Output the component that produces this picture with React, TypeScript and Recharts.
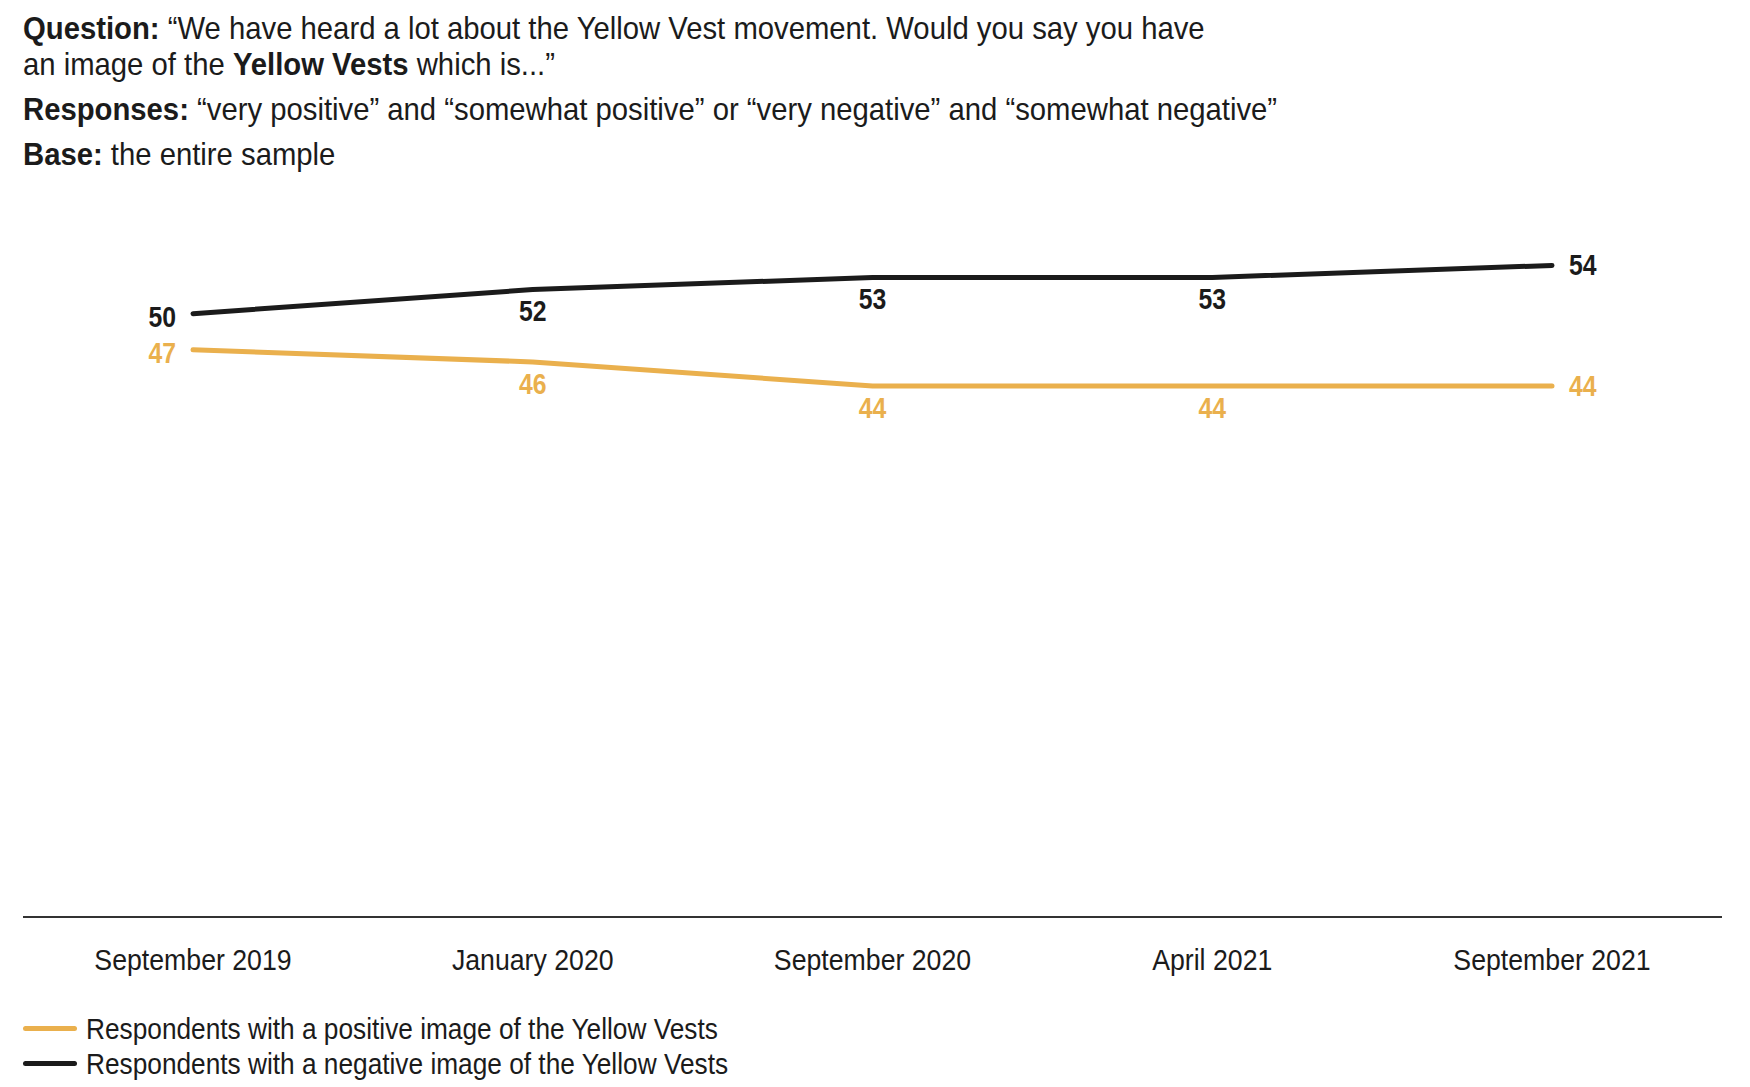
import React from 'react';
import { LineChart, Line, XAxis, YAxis, LabelList, Legend } from 'recharts';

const categories = ['September 2019', 'January 2020', 'September 2020', 'April 2021', 'September 2021'];
const positiveValues = [47, 46, 44, 44, 44];
const negativeValues = [50, 52, 53, 53, 54];
const seriesNames = [
  'Respondents with a positive image of the Yellow Vests',
  'Respondents with a negative image of the Yellow Vests',
];

const data = categories.map((month, i) => ({
  month,
  positive: positiveValues[i],
  negative: negativeValues[i],
}));

const FONT = "'Liberation Sans', Arial, Helvetica, sans-serif";
const SX = 0.89;
const LABEL_SX = 0.84;
const HEADER_SX = 0.915;
const ORANGE = '#EAB04D';
const BLACK = '#1b1b1b';

const makeLabel = (color: string, below: number) => (props: any) => {
  const { x, y, value, index } = props;
  const last = categories.length - 1;
  let tx = x;
  let ty = y + below;
  let anchor: 'start' | 'middle' | 'end' = 'middle';
  if (index === 0) {
    tx = x - 17;
    ty = y + 3;
    anchor = 'end';
  } else if (index === last) {
    tx = x + 17;
    ty = y - 1;
    anchor = 'start';
  }
  return (
    <text
      transform={`translate(${tx},${ty}) scale(${LABEL_SX},1)`}
      x={0}
      y={0}
      dy="0.36em"
      textAnchor={anchor}
      fill={color}
      fontFamily={FONT}
      fontWeight={700}
      fontSize={29.5}
    >
      {value}
    </text>
  );
};

const Tick = (props: any) => {
  const { x, y, payload } = props;
  return (
    <text
      transform={`translate(${x},${y + 53}) scale(${SX},1)`}
      x={0}
      y={0}
      textAnchor="middle"
      fill="#1b1b1b"
      fontFamily={FONT}
      fontSize={30}
    >
      {payload.value}
    </text>
  );
};

const LegendContent = () => {
  const colors = [ORANGE, BLACK];
  return (
    <div style={{ fontFamily: FONT, fontSize: 30, color: '#1b1b1b', width: 900 }}>
      {seriesNames.map((name, i) => (
        <div key={name} style={{ display: 'flex', alignItems: 'center', height: 35, lineHeight: '35px' }}>
          <span
            style={{
              display: 'inline-block',
              flex: 'none',
              width: 54,
              height: 5,
              borderRadius: 3,
              background: colors[i],
              marginRight: 9,
            }}
          />
          <span
            style={{
              display: 'inline-block',
              whiteSpace: 'nowrap',
              transform: `scaleX(${SX - 0.015})`,
              transformOrigin: 'left center',
            }}
          >
            {name}
          </span>
        </div>
      ))}
    </div>
  );
};

const HeaderLine = ({ y, children }: { y: number; children: React.ReactNode }) => (
  <text transform={`translate(23,${y}) scale(${HEADER_SX},1)`} x={0} y={0}>
    {children}
  </text>
);

export default function App() {
  return (
    <div style={{ position: 'absolute', left: 0, top: 0, width: 1750, height: 1087, background: '#fff' }}>
      <svg width={1750} height={190} style={{ position: 'absolute', left: 0, top: 0 }}>
        <g fontFamily={FONT} fontSize={32} fill="#1b1b1b">
          <HeaderLine y={39}>
            <tspan fontWeight={700}>Question:</tspan>
            <tspan> “We have heard a lot about the Yellow Vest movement. Would you say you have</tspan>
          </HeaderLine>
          <HeaderLine y={75}>
            <tspan>an image of the </tspan>
            <tspan fontWeight={700}>Yellow Vests</tspan>
            <tspan> which is...”</tspan>
          </HeaderLine>
          <HeaderLine y={120}>
            <tspan fontWeight={700}>Responses:</tspan>
            <tspan> “very positive” and “somewhat positive” or “very negative” and “somewhat negative”</tspan>
          </HeaderLine>
          <HeaderLine y={165}>
            <tspan fontWeight={700}>Base:</tspan>
            <tspan> the entire sample</tspan>
          </HeaderLine>
        </g>
      </svg>
      <div style={{ position: 'absolute', left: 0, top: 0 }}>
        <LineChart width={1750} height={1087} data={data} margin={{ top: 193, right: 28, bottom: 60, left: 23 }}>
          <XAxis
            dataKey="month"
            axisLine={{ stroke: '#333', strokeWidth: 2 }}
            tickLine={false}
            tickSize={0}
            tickMargin={0}
            padding={{ left: 170, right: 170 }}
            height={40}
            tick={<Tick />}
            interval={0}
          />
          <YAxis hide domain={[0, 60]} />
          <Legend
            content={<LegendContent />}
            wrapperStyle={{ position: 'absolute', left: 23, top: 1011, width: 'auto', bottom: 'auto' }}
          />
          <Line
            dataKey="positive"
            name={seriesNames[0]}
            stroke={ORANGE}
            strokeWidth={5}
            strokeLinecap="round"
            strokeLinejoin="round"
            dot={false}
            activeDot={false}
            isAnimationActive={false}
          >
            <LabelList dataKey="positive" content={makeLabel(ORANGE, 21)} />
          </Line>
          <Line
            dataKey="negative"
            name={seriesNames[1]}
            stroke={BLACK}
            strokeWidth={5}
            strokeLinecap="round"
            strokeLinejoin="round"
            dot={false}
            activeDot={false}
            isAnimationActive={false}
          >
            <LabelList dataKey="negative" content={makeLabel(BLACK, 21)} />
          </Line>
        </LineChart>
      </div>
    </div>
  );
}
